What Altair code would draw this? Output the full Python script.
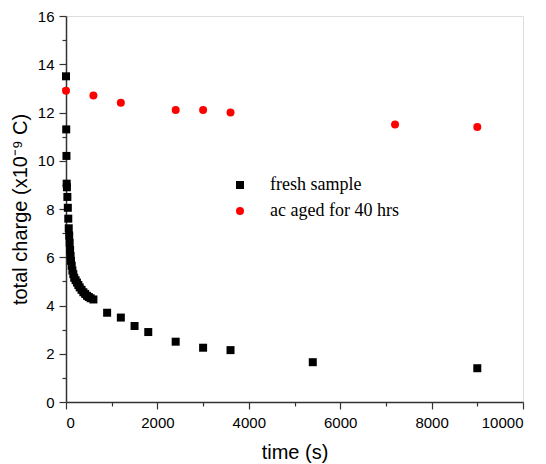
import altair as alt
import pandas as pd

fresh_t = [0, 5, 10, 15, 20, 30, 40, 50, 60, 70, 80, 90, 100, 110, 125, 140, 160, 180,
           210, 240, 270, 300, 340, 380, 420, 460, 500, 540, 600,
           900, 1200, 1500, 1800, 2400, 3000, 3600, 5400, 9000]
fresh_q = [13.5, 11.3, 10.2, 9.05, 8.9, 8.5, 8.05, 7.6, 7.2, 6.9, 6.6, 6.3, 6.05, 5.85, 5.65, 5.45, 5.3, 5.15,
           5.05, 4.95, 4.85, 4.75, 4.65, 4.55, 4.48, 4.4, 4.35, 4.3, 4.25,
           3.7, 3.5, 3.15, 2.9, 2.5, 2.25, 2.15, 1.65, 1.4]
aged_t = [0, 600, 1200, 2400, 3000, 3600, 7200, 9000]
aged_q = [12.9, 12.7, 12.4, 12.1, 12.1, 12.0, 11.5, 11.4]
series_names = ["fresh sample", "ac aged for 40 hrs"]
x_ticks = list(range(0, 10001, 1000))
y_ticks = list(range(0, 17))

df = pd.concat([
    pd.DataFrame({"t": fresh_t, "q": fresh_q, "s": series_names[0]}),
    pd.DataFrame({"t": aged_t, "q": aged_q, "s": series_names[1]}),
])

axis_common = dict(
    domainColor="#333333", tickColor="#333333", labelColor="#000000", titleColor="#000000",
    labelFont="Liberation Sans", titleFont="Liberation Sans", labelFontSize=15, titleFontSize=20,
    titleFontWeight="normal", grid=False, domainWidth=1.5, tickWidth=1.2,
)

legend_spec = alt.Legend(title=None, orient="none", legendX=165, legendY=160, padding=0,
                         labelFont="Liberation Serif", labelFontSize=18, labelColor="#000000",
                         symbolSize=64, symbolStrokeWidth=0, labelOffset=21, rowPadding=8)

chart = alt.Chart(df).mark_point(filled=True, size=64, opacity=1).encode(
    x=alt.X("t:Q", scale=alt.Scale(domain=[0, 10000], nice=False),
            axis=alt.Axis(values=x_ticks, format="d", title="time (s)",
                          labelExpr="datum.value % 2000 === 0 ? datum.label : ''",
                          tickSize={"condition": {"test": "datum.value % 2000 === 0", "value": 7}, "value": 4},
                          labelPadding=6, titlePadding=12, **axis_common)),
    y=alt.Y("q:Q", scale=alt.Scale(domain=[0, 16], nice=False),
            axis=alt.Axis(values=y_ticks, format="d", title="total charge (x10⁻⁹ C)",
                          labelExpr="datum.value % 2 === 0 ? datum.label : ''",
                          tickSize={"condition": {"test": "datum.value % 2 === 0", "value": 7}, "value": 4},
                          labelPadding=5, titlePadding=7, **axis_common)),
    shape=alt.Shape("s:N", scale=alt.Scale(domain=series_names, range=["square", "circle"]),
                    legend=legend_spec),
    color=alt.Color("s:N", scale=alt.Scale(domain=series_names, range=["#000000", "#ff0000"]),
                    legend=legend_spec),
).properties(
    width=457, height=386,
    autosize=alt.AutoSizeParams(type="none"),
    padding={"left": 66, "top": 16, "right": 23, "bottom": 62},
).configure_view(stroke=None).configure(background="white")

chart.save("out.html", embed_options={"renderer": "svg", "actions": False})
